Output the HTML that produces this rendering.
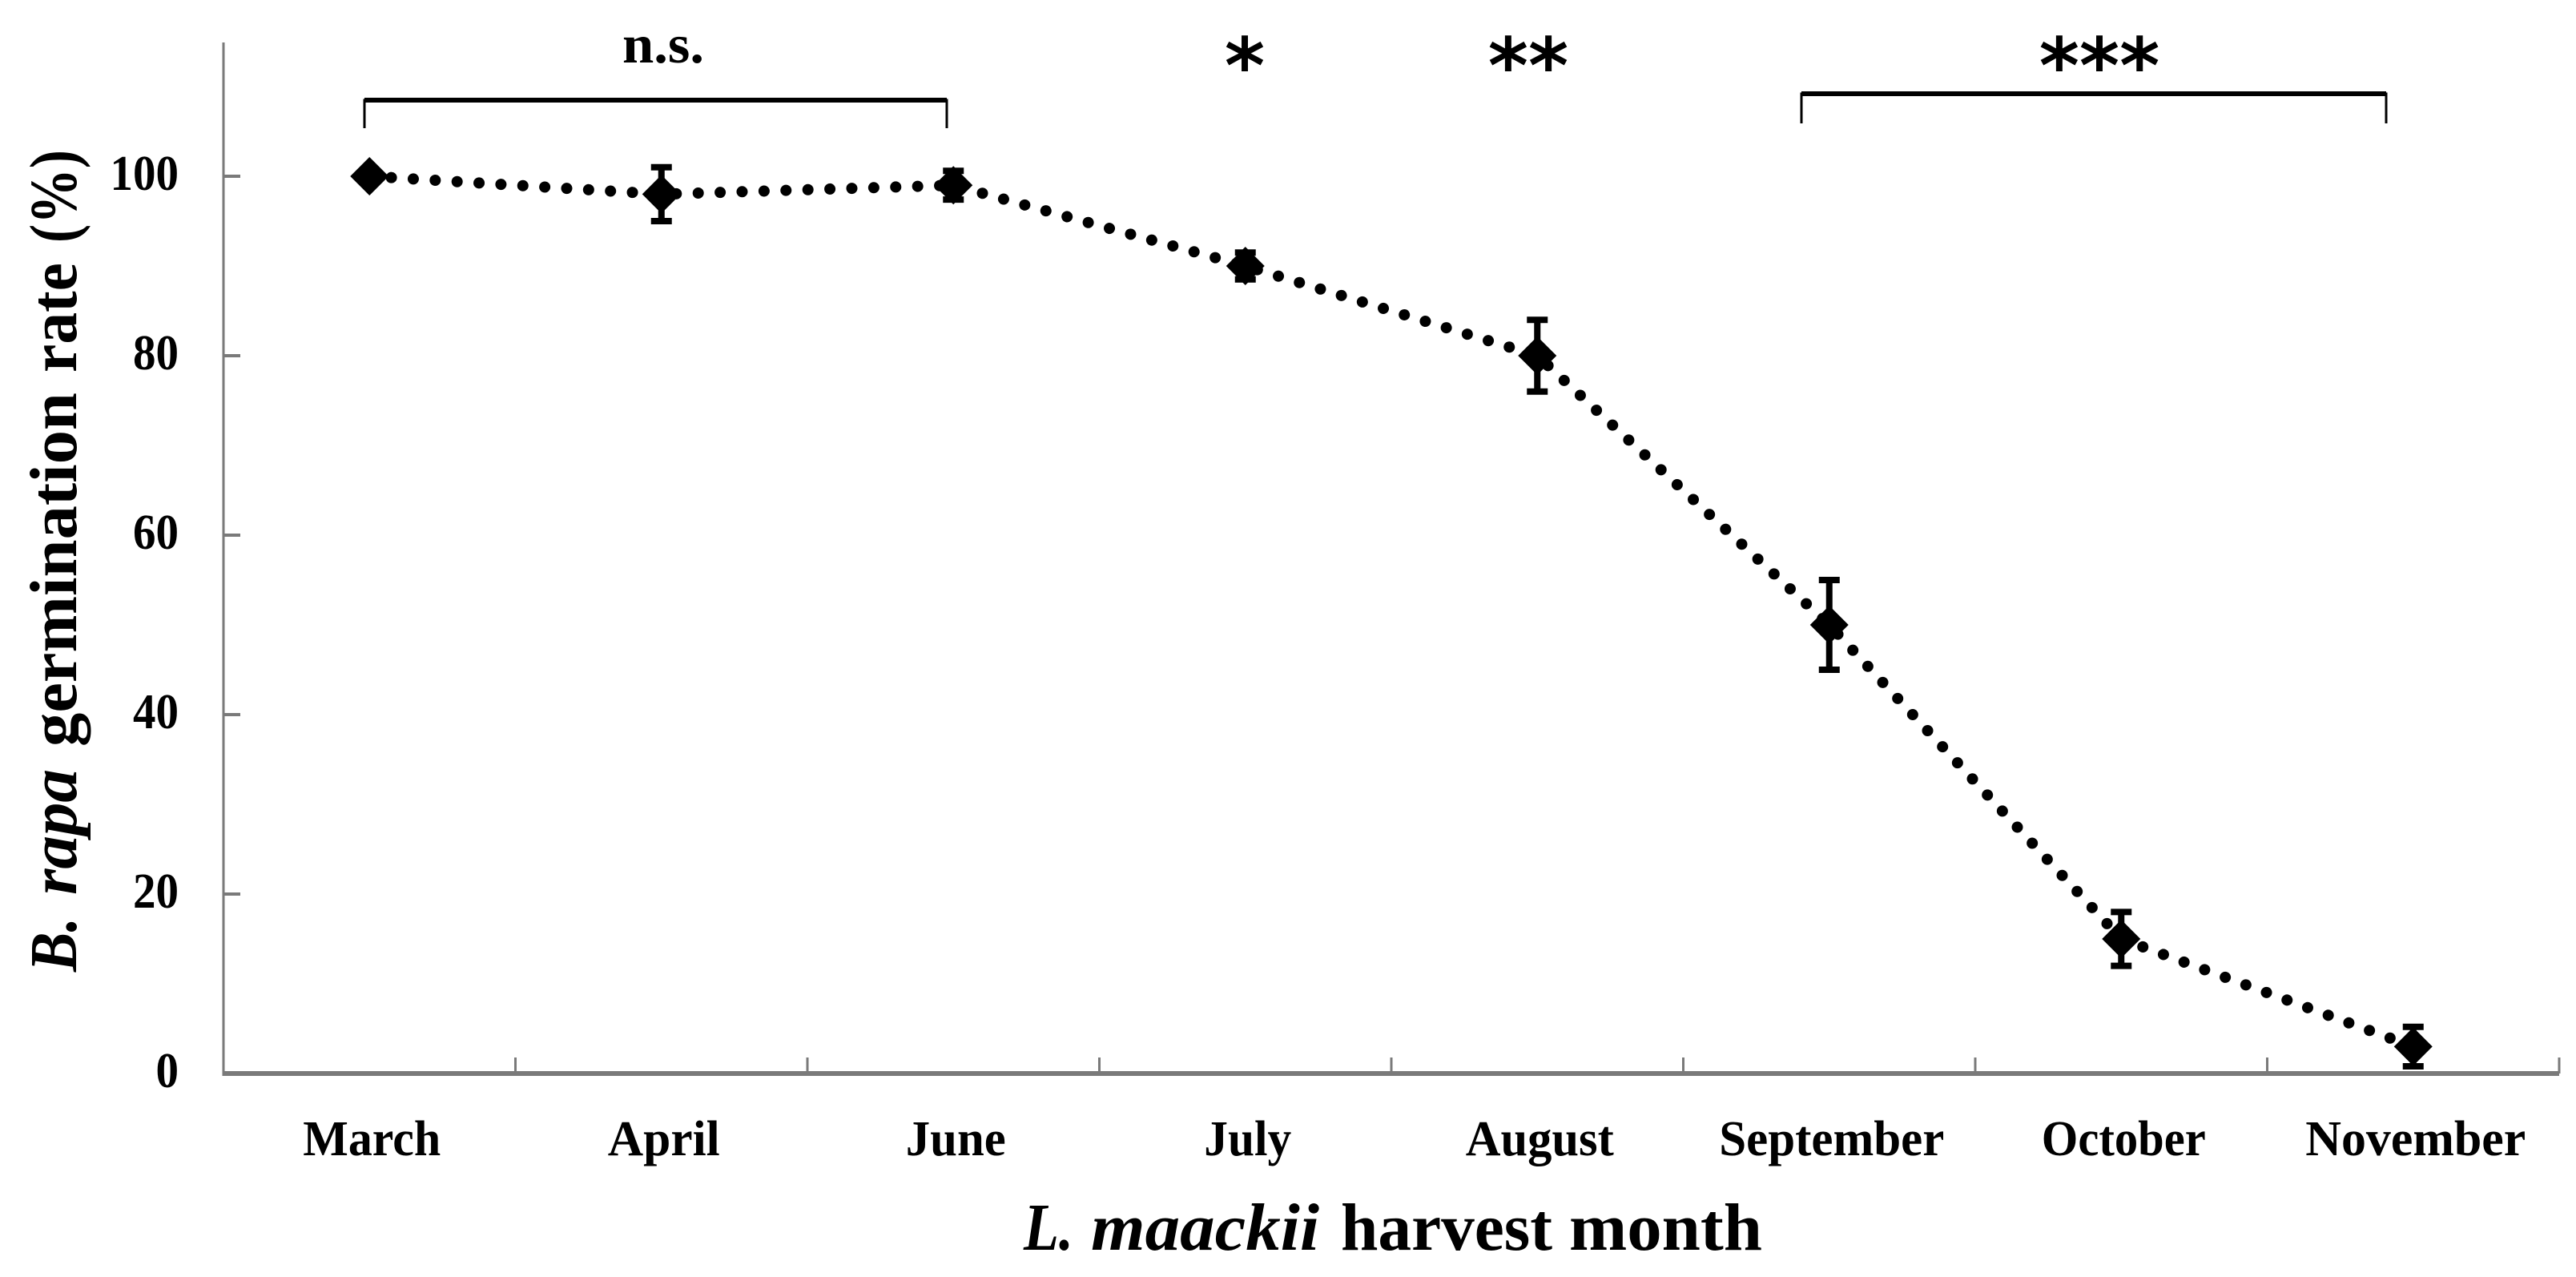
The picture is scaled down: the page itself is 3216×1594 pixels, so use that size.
<!DOCTYPE html>
<html>
<head>
<meta charset="utf-8">
<style>
html,body{margin:0;padding:0;background:#fff;}
svg{display:block;}
text{font-family:"Liberation Serif",serif;font-weight:bold;fill:#000;}
</style>
</head>
<body>
<svg id="chart" width="3216" height="1594" viewBox="0 0 3216 1594" xmlns="http://www.w3.org/2000/svg">
  <rect width="3216" height="1594" fill="#fff"/>
  <g font-size="84">
    <text transform="translate(95,1213) rotate(-90)" font-style="italic" textLength="68" lengthAdjust="spacingAndGlyphs">B.</text>
    <text transform="translate(95,1117) rotate(-90)" font-style="italic" textLength="157" lengthAdjust="spacingAndGlyphs">rapa</text>
    <text transform="translate(95,932) rotate(-90)" textLength="442" lengthAdjust="spacingAndGlyphs">germination</text>
    <text transform="translate(95,465) rotate(-90)" textLength="137" lengthAdjust="spacingAndGlyphs">rate</text>
    <text transform="translate(95,303) rotate(-90)" textLength="116" lengthAdjust="spacingAndGlyphs">(%)</text>
  </g>
  <g font-size="84">
    <text x="1278" y="1560" font-style="italic" textLength="62" lengthAdjust="spacingAndGlyphs">L.</text>
    <text x="1362" y="1560" font-style="italic" textLength="285" lengthAdjust="spacingAndGlyphs">maackii</text>
    <text x="1674" y="1560" textLength="264" lengthAdjust="spacingAndGlyphs">harvest</text>
    <text x="1959" y="1560" textLength="241" lengthAdjust="spacingAndGlyphs">month</text>
  </g>
  <g>
    <path d="M455 160V125H1182V160" fill="none" stroke="#000" stroke-width="3"/>
    <rect x="455" y="122" width="727" height="6" fill="#000"/>
    <path d="M2249 154V117H2979V154" fill="none" stroke="#000" stroke-width="3"/>
    <rect x="2249" y="114" width="730" height="6" fill="#000"/>
    <text x="777" y="78" font-size="68" textLength="102" lengthAdjust="spacingAndGlyphs">n.s.</text>
    <text x="1554" y="116" font-size="96" text-anchor="middle" style="font-family:'DejaVu Sans',sans-serif">*</text>
    <text x="1908" y="116" font-size="96" text-anchor="middle" style="font-family:'DejaVu Sans',sans-serif">**</text>
    <text x="2621" y="116" font-size="96" text-anchor="middle" style="font-family:'DejaVu Sans',sans-serif">***</text>
  </g>
</svg>
<script>
const categories = ['March','April','June','July','August','September','October','November'];
const germinationRate = [100,98,99,90,80,50,15,3];
const errorValues = [0,3,1.6,1.5,4,5,3,2.2];
const yTickValues = [0,20,40,60,80,100];
const NS = 'http://www.w3.org/2000/svg';
const svg = document.getElementById('chart');
const plotLeft = 279, plotRight = 3195, plotBottom = 1340, plotTop = 53, unitsToPx = 11.2;
const labelLayoutWidth = {March:172, April:140, June:125, July:109, August:185, September:281, October:205, November:275};
function xScale(i){ return plotLeft + (i + 0.5) * (plotRight - plotLeft) / categories.length; }
function xEdge(i){ return plotLeft + i * (plotRight - plotLeft) / categories.length; }
function yScale(v){ return plotBottom - v * unitsToPx; }
function make(tag, attrs, parent){
  const el = document.createElementNS(NS, tag);
  for (const k in attrs) el.setAttribute(k, attrs[k]);
  (parent || svg).appendChild(el);
  return el;
}
const axisColor = '#7a7a7a';
const yAxis = make('line', {x1:plotLeft, x2:plotLeft, y1:plotTop, y2:plotBottom+3, stroke:axisColor, 'stroke-width':3});


const xAxis = make('line', {x1:plotLeft, x2:plotRight, y1:plotBottom, y2:plotBottom, stroke:axisColor, 'stroke-width':6});


yTickValues.forEach(function(v){
  const y = yScale(v);
  if (v > 0) {
    const t = make('line', {x1:plotLeft, x2:plotLeft+21, y1:y, y2:y, stroke:axisColor, 'stroke-width':4});
    
    
  }
  const s = String(v);
  const lab = make('text', {x:223, y:y+17, 'font-size':62, 'text-anchor':'end', textLength:s.length*28.5, lengthAdjust:'spacingAndGlyphs'});
  
  
  lab.textContent = s;
});
for (let i = 1; i <= categories.length; i++) {
  const t = make('line', {x1:xEdge(i), x2:xEdge(i), y1:plotBottom-20, y2:plotBottom, stroke:axisColor, 'stroke-width':3});
  
  
}
categories.forEach(function(c, i){
  const lab = make('text', {x:xScale(i)+3, y:1442, 'font-size':62, 'text-anchor':'middle', textLength:labelLayoutWidth[c], lengthAdjust:'spacingAndGlyphs'});
  
  
  lab.textContent = c;
});
const seriesLine = make('polyline', {
  points: germinationRate.map(function(v,i){ return xScale(i)+','+yScale(v); }).join(' '),
  fill:'none', stroke:'#000', 'stroke-width':14, 'stroke-linecap':'round', 'stroke-dasharray':'0.01 27.4'
});


germinationRate.forEach(function(v,i){
  const x = xScale(i), y = yScale(v), e = errorValues[i];
  if (e > 0) {
    const bar = make('path', {
      d:'M'+x+' '+yScale(v+e)+'V'+yScale(v-e)+'M'+(x-13)+' '+yScale(v+e)+'H'+(x+13)+'M'+(x-13)+' '+yScale(v-e)+'H'+(x+13),
      fill:'none', stroke:'#000', 'stroke-width':8
    });
    
    
  }
  const d = make('path', {d:'M'+x+' '+(y-24)+'L'+(x+24)+' '+y+'L'+x+' '+(y+24)+'L'+(x-24)+' '+y+'Z', fill:'#000'});
  
  
});
</script>
</body>
</html>
